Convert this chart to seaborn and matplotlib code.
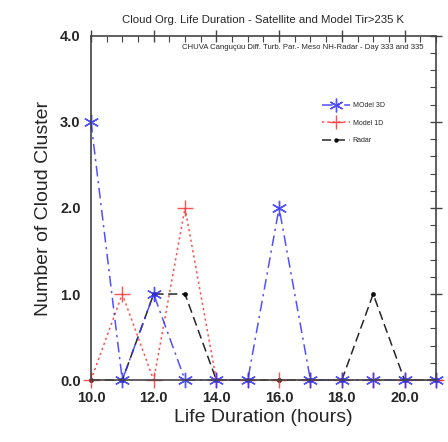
import matplotlib
matplotlib.use("Agg")
import matplotlib.pyplot as plt
import pandas as pd
import seaborn as sns
from matplotlib.ticker import MultipleLocator, FormatStrFormatter

sns.set_theme(style="white")
plt.rcParams["font.family"] = ["Liberation Sans", "DejaVu Sans"]

hours = [10, 11, 12, 13, 14, 15, 16, 17, 18, 19, 20, 21]
model3d = [3, 0, 1, 0, 0, 0, 2, 0, 0, 0, 0, 0]
model1d = [0, 1, 0, 2, 0, 0, 0, 0, 0, 0, 0, 0]
radar = [0, 0, 1, 1, 0, 0, 0, 0, 0, 1, 0, 0]

series = [
    ("MOdel 3D", model3d, dict(color="#3333ff", ls=(0, (7, 3, 1.5, 3)), marker=(6, 2, 0), ms=11, alpha=0.85)),
    ("Model 1D", model1d, dict(color="#ff3333", ls=(0, (1.5, 2)), marker="+", ms=11, alpha=0.85)),
    ("Radar", radar, dict(color="black", ls=(0, (6, 3)), marker=".", ms=5, alpha=0.85)),
]

fig = plt.figure(figsize=(4.48, 4.42), dpi=100)
ax = fig.add_axes([0.203, 0.140, 0.770, 0.779])

# draw order: radar, 1D, 3D on top
for name, vals, st in reversed(series):
    df = pd.DataFrame({"hours": hours, "n": vals})
    sns.lineplot(data=df, x="hours", y="n", ax=ax, color=st["color"], linestyle=st["ls"],
                 marker=st["marker"], markersize=st["ms"], markeredgewidth=1.0,
                 markeredgecolor=st["color"], alpha=st["alpha"], linewidth=1.1, label=name,
                 clip_on=False)

ax.set_xlim(10, 21)
ax.set_ylim(0, 4)
ax.xaxis.set_major_locator(MultipleLocator(2))
ax.xaxis.set_minor_locator(MultipleLocator(0.5))
ax.yaxis.set_major_locator(MultipleLocator(1))
ax.yaxis.set_minor_locator(MultipleLocator(0.2))
ax.xaxis.set_major_formatter(FormatStrFormatter("%.1f"))
ax.yaxis.set_major_formatter(FormatStrFormatter("%.1f"))
ax.tick_params(which="major", direction="inout", length=9, width=1, color="#444444",
               top=True, right=True, labelsize=10.5, pad=3)
ax.tick_params(which="minor", direction="in", length=4, width=0.8, color="#444444",
               top=True, right=True)
for lbl in ax.get_xticklabels() + ax.get_yticklabels():
    lbl.set_fontweight("bold")
for sp in ax.spines.values():
    sp.set_color("#444444")
    sp.set_linewidth(1.2)

ax.set_xlabel("Life Duration (hours)", fontsize=14, labelpad=3)
ax.set_ylabel("Number of Cloud Cluster", fontsize=14, labelpad=6)
ax.set_title("Cloud Org. Life Duration - Satellite and Model Tir>235 K", fontsize=8.2, pad=9)
ax.text(0.963, 0.975, "CHUVA Cangu\u00e7\u00f9u Diff. Turb. Par.- Meso NH-Radar - Day 333 and 335",
        transform=ax.transAxes, ha="right", va="top", fontsize=5.6)

handles, labels = ax.get_legend_handles_labels()
order = [labels.index(n) for n, _, _ in series]
ax.legend([handles[i] for i in order], [labels[i] for i in order], loc="upper right",
          bbox_to_anchor=(0.87, 0.825), fontsize=5, frameon=False, handlelength=4,
          markerscale=0.9, labelspacing=1.5, handletextpad=0.4)

fig.savefig("out.png", dpi=100)
